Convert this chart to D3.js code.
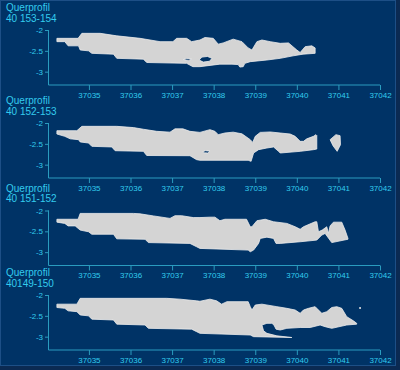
<!DOCTYPE html>
<html><head><meta charset="utf-8">
<script src="https://cdn.jsdelivr.net/npm/d3@7"></script>
<style>
html,body{margin:0;padding:0;background:#0b2a52;}
svg{display:block;}
</style></head>
<body>
<svg id="chart" width="400" height="370"></svg>
<script>
// ---- data ----
const xTicks = [37035, 37036, 37037, 37038, 37039, 37040, 37041, 37042];
const yTicks = [-2, -2.5, -3];
const xDomain = [37034.04, 37042];
const yDomain = [-3.32, -2];
const panelTitle = "Querprofil";
const panelNames = ["40 153-154", "40 152-153", "40 151-152", "40149-150"];

const p1Top = [[37034.23,-2.20],[37034.74,-2.20],[37034.83,-2.08],[37035.27,-2.08],[37035.67,-2.14],[37036.23,-2.20],[37036.71,-2.28],[37037.02,-2.28],[37037.11,-2.20],[37037.35,-2.20],[37037.47,-2.28],[37037.67,-2.24],[37037.79,-2.18],[37037.99,-2.20],[37038.11,-2.34],[37038.23,-2.31],[37038.47,-2.22],[37038.68,-2.28],[37038.83,-2.43],[37038.92,-2.48],[37039.04,-2.28],[37039.16,-2.24],[37039.36,-2.28],[37039.60,-2.32],[37039.80,-2.31],[37040.00,-2.48],[37040.08,-2.54],[37040.20,-2.40],[37040.36,-2.38],[37040.44,-2.43]];
const p1Bottom = [[37034.23,-2.28],[37034.42,-2.28],[37034.50,-2.38],[37034.75,-2.38],[37034.79,-2.48],[37034.99,-2.50],[37035.07,-2.56],[37035.59,-2.58],[37035.67,-2.68],[37036.31,-2.70],[37036.39,-2.78],[37037.35,-2.80],[37037.50,-2.88],[37037.67,-2.88],[37038.15,-2.82],[37038.44,-2.82],[37038.59,-2.83],[37038.63,-2.89],[37038.71,-2.88],[37038.75,-2.80],[37038.88,-2.76],[37039.28,-2.72],[37039.60,-2.68],[37039.91,-2.62],[37040.15,-2.58],[37040.44,-2.56]];
const p1Holes = [
  [[37037.27,-2.71],[37037.35,-2.685],[37037.47,-2.70],[37037.40,-2.73]],
  [[37037.65,-2.72],[37037.72,-2.65],[37037.85,-2.635],[37037.96,-2.68],[37037.90,-2.75],[37037.75,-2.77]]
];

const p2Top = [[37034.23,-2.185],[37034.71,-2.185],[37034.83,-2.08],[37035.67,-2.08],[37036.07,-2.11],[37036.31,-2.15],[37036.63,-2.20],[37036.95,-2.22],[37037.07,-2.14],[37037.26,-2.14],[37037.43,-2.20],[37037.67,-2.225],[37037.91,-2.16],[37038.03,-2.20],[37038.11,-2.28],[37038.27,-2.24],[37038.47,-2.22],[37038.68,-2.26],[37038.88,-2.40],[37038.94,-2.465],[37039.00,-2.32],[37039.12,-2.225],[37039.36,-2.215],[37039.60,-2.24],[37039.84,-2.265],[37039.96,-2.32],[37040.08,-2.44],[37040.16,-2.44],[37040.24,-2.38],[37040.40,-2.32],[37040.46,-2.28],[37040.48,-2.30]];
const p2Bottom = [[37034.23,-2.264],[37034.42,-2.32],[37034.55,-2.38],[37034.75,-2.40],[37034.79,-2.455],[37034.99,-2.48],[37035.07,-2.56],[37035.55,-2.575],[37035.63,-2.665],[37036.31,-2.68],[37036.39,-2.78],[37037.43,-2.785],[37037.59,-2.88],[37037.67,-2.895],[37038.83,-2.895],[37038.90,-2.92],[37038.96,-2.72],[37039.08,-2.64],[37039.28,-2.60],[37039.44,-2.575],[37039.56,-2.68],[37039.60,-2.72],[37040.08,-2.68],[37040.40,-2.64],[37040.48,-2.625]];
const p2Holes = [[[37037.74,-2.69],[37037.80,-2.665],[37037.91,-2.675],[37037.86,-2.72],[37037.76,-2.715]]];
const p2Island = [[37040.80,-2.40],[37040.94,-2.28],[37041.04,-2.305],[37041.05,-2.52],[37040.97,-2.68],[37040.87,-2.545]];

const p3Top = [[37034.23,-2.21],[37034.74,-2.21],[37034.79,-2.07],[37036.07,-2.07],[37036.23,-2.08],[37036.55,-2.13],[37036.95,-2.19],[37037.07,-2.125],[37037.23,-2.125],[37037.51,-2.17],[37037.67,-2.17],[37037.91,-2.16],[37038.03,-2.16],[37038.15,-2.245],[37038.27,-2.21],[37038.79,-2.21],[37038.88,-2.39],[37038.92,-2.39],[37039.04,-2.245],[37039.24,-2.21],[37039.44,-2.27],[37039.76,-2.31],[37039.96,-2.39],[37040.08,-2.45],[37040.16,-2.39],[37040.44,-2.27],[37040.48,-2.27],[37040.52,-2.51],[37040.61,-2.47],[37040.72,-2.39],[37040.76,-2.55],[37040.80,-2.37],[37040.88,-2.28],[37041.08,-2.28],[37041.16,-2.47],[37041.23,-2.67]];
const p3Bottom = [[37034.23,-2.28],[37034.42,-2.31],[37034.50,-2.37],[37034.67,-2.37],[37034.79,-2.47],[37034.99,-2.51],[37035.07,-2.57],[37035.59,-2.57],[37035.67,-2.68],[37036.35,-2.69],[37036.43,-2.77],[37037.43,-2.79],[37037.59,-2.87],[37037.67,-2.91],[37038.83,-2.95],[37038.88,-2.99],[37038.96,-2.95],[37039.08,-2.79],[37039.12,-2.67],[37039.28,-2.64],[37039.44,-2.67],[37039.50,-2.79],[37039.60,-2.79],[37040.08,-2.75],[37040.48,-2.71],[37040.60,-2.59],[37040.68,-2.55],[37040.76,-2.66],[37040.84,-2.77],[37041.23,-2.69]];

const p4Top = [[37034.23,-2.22],[37034.71,-2.22],[37034.79,-2.08],[37036.87,-2.08],[37037.19,-2.10],[37037.59,-2.14],[37037.67,-2.15],[37037.91,-2.10],[37038.07,-2.14],[37038.19,-2.22],[37038.32,-2.16],[37038.83,-2.16],[37038.88,-2.28],[37038.92,-2.36],[37039.00,-2.24],[37039.16,-2.22],[37039.52,-2.28],[37039.76,-2.32],[37039.96,-2.36],[37040.08,-2.44],[37040.16,-2.36],[37040.28,-2.32],[37040.44,-2.28],[37040.48,-2.32],[37040.60,-2.44],[37040.72,-2.40],[37040.84,-2.30],[37040.96,-2.28],[37041.08,-2.32],[37041.20,-2.52],[37041.36,-2.62],[37041.44,-2.68]];
const p4Bottom = [[37034.23,-2.30],[37034.42,-2.32],[37034.50,-2.38],[37034.71,-2.40],[37034.79,-2.48],[37034.99,-2.50],[37035.07,-2.58],[37035.59,-2.60],[37035.67,-2.70],[37036.35,-2.72],[37036.43,-2.80],[37037.47,-2.82],[37037.59,-2.88],[37037.67,-2.92],[37038.88,-2.96],[37038.96,-3.00],[37039.88,-3.02],[37039.52,-2.98],[37039.28,-2.92],[37039.20,-2.86],[37039.16,-2.72],[37039.28,-2.68],[37039.40,-2.68],[37039.45,-2.72],[37039.50,-2.82],[37039.60,-2.84],[37039.76,-2.80],[37040.08,-2.78],[37040.32,-2.78],[37040.56,-2.72],[37040.68,-2.76],[37040.84,-2.80],[37041.20,-2.72],[37041.44,-2.70]];
const p4Dot = [[37041.52,-2.31]];

// ---- layout ----
const bg = "#003366";
const axisColor = "#2a9cbf";
const textColor = "#33ccee";
const fillColor = "#d4d4d4";
const panelTops = [30, 123, 210.5, 295];
const left = 49, right = 380, plotH = 55;
const font = "Liberation Sans, Arial, sans-serif";

const panels = [
  {top: p1Top, bottom: p1Bottom, holes: p1Holes, islands: [], dots: []},
  {top: p2Top, bottom: p2Bottom, holes: p2Holes, islands: [p2Island], dots: []},
  {top: p3Top, bottom: p3Bottom, holes: [], islands: [], dots: []},
  {top: p4Top, bottom: p4Bottom, holes: [], islands: [], dots: p4Dot}
];

const svg = d3.select("#chart");
svg.append("rect").attr("x",0.5).attr("y",0.5).attr("width",395).attr("height",365)
  .attr("fill",bg).attr("stroke","#1d4f86").attr("stroke-width",1);

const x = d3.scaleLinear().domain(xDomain).range([left, right]);

panels.forEach((p, i) => {
  const t = panelTops[i];
  const y = d3.scaleLinear().domain(yDomain).range([t + plotH, t]);
  const g = svg.append("g");
  const line = d3.line().x(d => x(d[0])).y(d => y(d[1]));

  g.append("text").attr("x",6).attr("y",t-19).text(panelTitle)
    .attr("fill",textColor).attr("font-family",font).attr("font-size",10);
  g.append("text").attr("x",6).attr("y",t-8.5).text(panelNames[i])
    .attr("fill",textColor).attr("font-family",font).attr("font-size",10);

  const outline = p.top.concat(p.bottom.slice().reverse());
  let dStr = line(outline) + "Z";
  p.holes.forEach(h => { dStr += line(h) + "Z"; });
  g.append("path").attr("d", dStr).attr("fill", fillColor).attr("fill-rule","evenodd")
    .attr("stroke","#ececec").attr("stroke-width",0.8).attr("stroke-linejoin","round");
  p.islands.forEach(isl => {
    g.append("path").attr("d", line(isl) + "Z").attr("fill", fillColor)
      .attr("stroke","#ececec").attr("stroke-width",0.8).attr("stroke-linejoin","round");
  });
  p.dots.forEach(dt => {
    g.append("circle").attr("cx", x(dt[0])).attr("cy", y(dt[1])).attr("r", 1).attr("fill", "#e8e8e8");
  });

  const yAxis = d3.axisLeft(y).tickValues(yTicks).tickSize(4).tickPadding(2).tickFormat(d => String(d));
  const ya = g.append("g").attr("transform", `translate(${left},0)`).call(yAxis);
  ya.select(".domain").attr("d", `M-0.5,${t}V${t+plotH}`);

  const xAxis = d3.axisBottom(x).tickValues(xTicks).tickSize(5).tickPadding(2).tickFormat(d => String(d));
  const xa = g.append("g").attr("transform", `translate(0,${t+plotH})`).call(xAxis);
  xa.select(".domain").attr("d", `M${left-0.5},0H${right}`);

  [ya, xa].forEach(a => {
    a.selectAll(".domain").attr("stroke", axisColor).attr("stroke-width",1).attr("fill","none");
    a.selectAll(".tick line").attr("stroke", axisColor);
    a.selectAll(".tick text").attr("fill", textColor)
      .attr("font-family",font).attr("font-size",8);
  });
});
</script>
</body></html>
